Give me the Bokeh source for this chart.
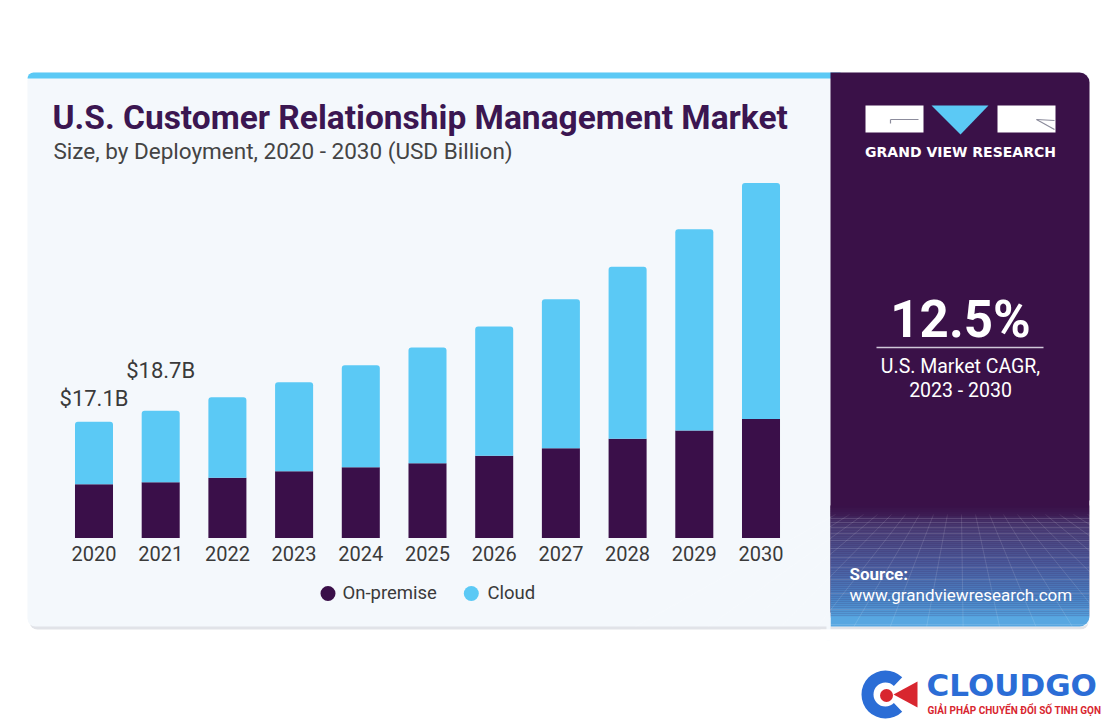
import math
from bokeh.plotting import figure
from bokeh.models import Range1d, ColumnDataSource
from bokeh.embed import file_html
from bokeh.resources import INLINE
from bokeh.core.properties import value

# ---------------- data ----------------
years = [2020, 2021, 2022, 2023, 2024, 2025, 2026, 2027, 2028, 2029, 2030]
year_labels = [str(y) for y in years]
on_premise = [7.9, 8.2, 8.85, 9.8, 10.4, 11.0, 12.1, 13.2, 14.6, 15.8, 17.5]
cloud = [9.2, 10.5, 11.85, 13.1, 15.0, 17.0, 19.0, 21.9, 25.3, 29.6, 34.7]
series_names = ["On-premise", "Cloud"]
callout_years = [2020, 2021]
callout_labels = ["$17.1B", "$18.7B"]
title_text = "U.S. Customer Relationship Management Market"
subtitle_text = "Size, by Deployment, 2020 - 2030 (USD Billion)"
cagr_text = "12.5%"
cagr_caption = ["U.S. Market CAGR,", "2023 - 2030"]
brand_text = "GRAND VIEW RESEARCH"
source_lines = ["Source:", "www.grandviewresearch.com"]

# ---------------- style ----------------
DARK = "#3a0f49"
CYAN = "#5bc9f5"
PANEL = "#3a1148"
CARD = "#f4f8fc"
TXT = "#3a3a3a"
FONT = value("Roboto")

W, H = 1108, 719
p = figure(width=W, height=H, x_range=Range1d(0, W), y_range=Range1d(H, 0),
           output_backend="svg", toolbar_location=None, min_border=0,
           x_axis_location=None, y_axis_location=None,
           background_fill_color="white", border_fill_color="white",
           outline_line_color=None)
p.grid.visible = False

# value / year scales for the bars
px_per_year = 66.7
x0_center = 93.5
p.extra_x_ranges = {"yr": Range1d(years[0] - x0_center / px_per_year,
                                  years[0] + (W - x0_center) / px_per_year)}
base_y = 537.5
px_per_b = 6.8
p.extra_y_ranges = {"val": Range1d(-(H - base_y) / px_per_b, base_y / px_per_b)}

# ---------------- card ----------------
p.quad(left=29, right=1088, top=80, bottom=629, fill_color="#e1e3e8", line_color=None, border_radius=8)
p.quad(left=27, right=1089, top=72, bottom=626, fill_color=CARD, line_color=None, border_radius=8)
p.quad(left=27, right=840, top=72, bottom=78, fill_color=CYAN, line_color=None, border_radius=(6, 0, 0, 0))
p.quad(left=830, right=1089, top=72, bottom=616, fill_color=PANEL, line_color=None, border_radius=(0, 10, 0, 0))

# panel gradient (decorative)
stops = [(505, (58, 17, 72)), (528, (74, 62, 118)), (565, (74, 92, 158)), (600, (74, 134, 200)), (626, (92, 176, 232))]
def col_at(y):
    for (y1, c1), (y2, c2) in zip(stops[:-1], stops[1:]):
        if y1 <= y <= y2:
            t = (y - y1) / (y2 - y1)
            return "#%02x%02x%02x" % tuple(int(a + (b - a) * t) for a, b in zip(c1, c2))
    return "#%02x%02x%02x" % stops[-1][1]
ys = list(range(505, 616, 2))
p.quad(left=830, right=1089, top=ys, bottom=[y + 2.2 for y in ys], fill_color=[col_at(y + 1) for y in ys], line_color=None)
p.quad(left=830, right=1089, top=616, bottom=626, fill_color=col_at(621), line_color=None, border_radius=(0, 0, 10, 0))
# perspective grid
hy = [518, 522, 527, 533, 540, 548, 557, 567, 579, 593, 609, 624]
p.multi_line(xs=[[830, 1089]] * len(hy), ys=[[y, y] for y in hy], line_color="white", line_alpha=0.13, line_width=1)
vx = list(range(835, 1090, 14))
p.multi_line(xs=[[x, 960 + (x - 960) * 2.6] for x in vx], ys=[[514, 626]] * len(vx),
             line_color="white", line_alpha=0.12, line_width=1)
p.quad(left=830, right=1089, top=505, bottom=516, fill_color=PANEL, fill_alpha=0.35, line_color=None)
# hide grid overflow outside the panel
p.quad(left=1089, right=1108, top=500, bottom=640, fill_color="white", line_color=None)
p.quad(left=826, right=830, top=612, bottom=640, fill_color=CARD, line_color=None)
p.quad(left=820, right=1108, top=629, bottom=640, fill_color="white", line_color=None)

# ---------------- bars ----------------
src = ColumnDataSource(dict(year=years, label=year_labels, onp=on_premise, cld=cloud,
                            tot=[a + b for a, b in zip(on_premise, cloud)]))
p.vbar(x="year", width=0.57, bottom=0, top="onp", source=src, fill_color=DARK, line_color=None,
       x_range_name="yr", y_range_name="val")
p.vbar(x="year", width=0.57, bottom="onp", top="tot", source=src, fill_color=CYAN, line_color=None,
       x_range_name="yr", y_range_name="val", border_radius=(3, 3, 0, 0))

# year labels
p.text(x="year", y=553, text="label", source=src, x_range_name="yr", text_font=FONT,
       text_font_size="20px", text_color=TXT, text_align="center", text_baseline="middle")

# callouts
tot = dict(zip(years, [a + b for a, b in zip(on_premise, cloud)]))
csrc = ColumnDataSource(dict(x=callout_years, y=[tot[y] for y in callout_years], t=callout_labels,
                             dy=[-23.5, -40.5]))
p.text(x="x", y="y", text="t", y_offset="dy", source=csrc, x_range_name="yr", y_range_name="val",
       text_font=FONT, text_font_size="22px", text_color=TXT, text_align="center", text_baseline="middle")

# legend
p.scatter(x=[327.5, 470.8], y=[593, 593], size=15, marker="circle", fill_color=[DARK, CYAN], line_color=None)
p.text(x=[342, 487], y=[592, 592], text=series_names, text_font=FONT, text_font_size="18.5px",
       text_color=TXT, text_align="left", text_baseline="middle")

# titles
p.text(x=[52], y=[117], text=[title_text], text_font=FONT, text_font_size="33.5px", text_font_style="bold",
       text_color="#3b1651", text_align="left", text_baseline="middle")
p.text(x=[53], y=[150], text=[subtitle_text], text_font=FONT, text_font_size="22.5px",
       text_color="#444444", text_align="left", text_baseline="middle")

# ---------------- right panel content ----------------
p.quad(left=[865, 997], right=[923, 1055], top=105, bottom=132, fill_color="white", line_color=None)
p.patch(x=[931, 988, 960], y=[105, 105, 134], fill_color=CYAN, line_color=None)
p.multi_line(xs=[[890, 918], [890, 890], [1036, 1054], [1036, 1054]],
             ys=[[119, 119], [119, 123], [119, 120], [119, 129]], line_color="#8c8c9c", line_width=1.2)
p.text(x=[960], y=[151], text=[brand_text], text_font=value("DejaVu Sans"), text_font_size="14px",
       text_font_style="bold", text_color="white", text_align="center", text_baseline="middle")

p.text(x=[960], y=[319], text=[cagr_text], text_font=FONT, text_font_size="51px", text_font_style="bold",
       text_color="white", text_align="center", text_baseline="middle")
p.line(x=[876, 1043], y=[347, 347], line_color="#cfc8d8", line_width=1.5)
p.text(x=[960, 960], y=[366, 390], text=cagr_caption, text_font=FONT, text_font_size="19.5px",
       text_color="white", text_align="center", text_baseline="middle")

p.text(x=[849], y=[573], text=[source_lines[0]], text_font=FONT, text_font_size="17px", text_font_style="bold",
       text_color="white", text_align="left", text_baseline="middle")
p.text(x=[849], y=[594], text=[source_lines[1]], text_font=FONT, text_font_size="17px",
       text_color="white", text_align="left", text_baseline="middle")

# ---------------- CloudGo logo ----------------
BLUE = "#2b6dd6"
RED = "#d8262f"
p.annular_wedge(x=885, y=694, inner_radius=12, outer_radius=24, start_angle=0.8,
                end_angle=2 * math.pi - 0.8, direction="anticlock", fill_color=BLUE, line_color=None)
p.patch(x=[893, 917, 917], y=[694, 681, 707], fill_color=RED, line_color=None)
p.circle(x=[886], y=[695], radius=6.5, fill_color=RED, line_color=None)
p.text(x=[926], y=[684], text=["CLOUDGO"], text_font=value("DejaVu Sans"), text_font_size="31px",
       text_font_style="bold", text_color=BLUE, text_align="left", text_baseline="middle")
p.text(x=[927], y=[710], text=["GIẢI PHÁP CHUYỂN ĐỔI SỐ TINH GỌN"], text_font=FONT, text_font_size="10px",
       text_font_style="bold", text_color=RED, text_align="left", text_baseline="middle")

open("out.html", "w").write(file_html(p, INLINE))
